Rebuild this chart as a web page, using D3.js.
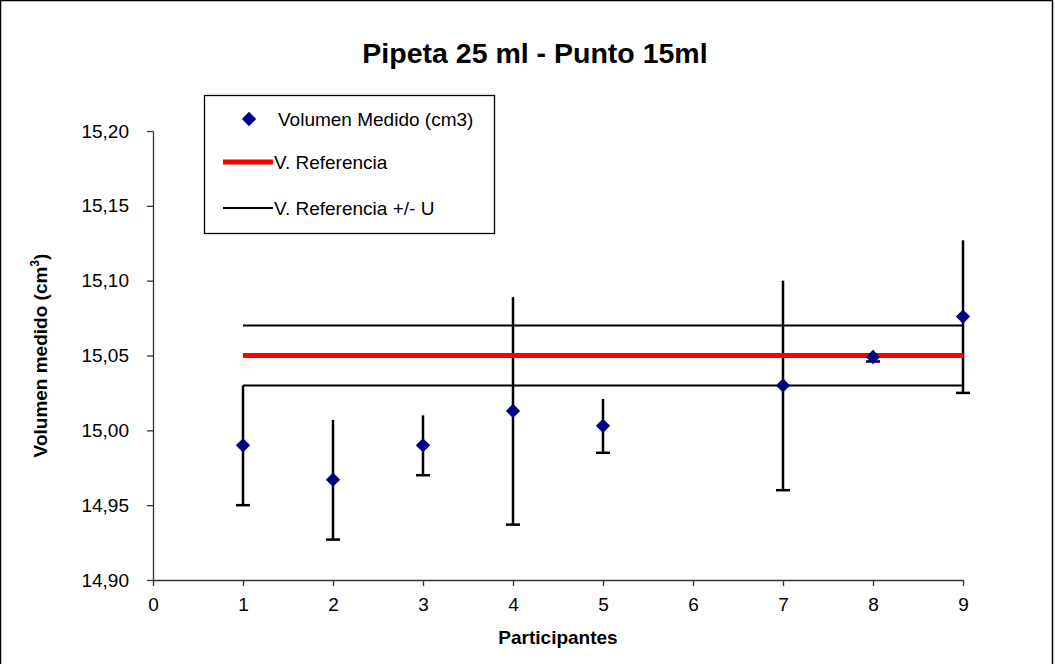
<!DOCTYPE html>
<html>
<head>
<meta charset="utf-8">
<script src="https://cdn.jsdelivr.net/npm/d3@7"></script>
<style>
  body { margin: 0; background: #fff; }
  svg { display: block; font-family: "Liberation Sans", Arial, sans-serif; }
</style>
</head>
<body>
<div id="chart"></div>
<script>
// Data
const participants = [1, 2, 3, 4, 5, 7, 8, 9];
const volumes = [14.990, 14.967, 14.990, 15.013, 15.003, 15.030, 15.049, 15.076];
const uncertainty = [0.040, 0.040, 0.020, 0.076, 0.018, 0.070, 0.003, 0.051];
const refValue = 15.05;
const refU = 0.02;
const refRange = [1, 9];
const xTicks = [0, 1, 2, 3, 4, 5, 6, 7, 8, 9];
const yTicks = [14.90, 14.95, 15.00, 15.05, 15.10, 15.15, 15.20];

const width = 1055, height = 664;
const margin = {top: 131, right: 92, bottom: 84, left: 153};

const svg = d3.select('#chart').append('svg')
    .attr('width', width)
    .attr('height', height);

// outer chart border
svg.append('rect')
    .attr('x', 0.5).attr('y', 0.5)
    .attr('width', width - 3).attr('height', height + 10)
    .attr('fill', 'none')
    .attr('stroke', '#000')
    .attr('stroke-width', 1.5);

const xScale = d3.scaleLinear()
    .domain([0, 9])
    .range([margin.left, width - margin.right]);

const yScale = d3.scaleLinear()
    .domain([14.90, 15.20])
    .range([height - margin.bottom, margin.top]);

const fmt = d => d3.format('.2f')(d).replace('.', ',');

// Axes
const xAxis = svg.append('g')
    .attr('transform', `translate(0,${yScale(14.90)})`)
    .call(d3.axisBottom(xScale).tickValues(xTicks).tickSize(6).tickSizeOuter(0).tickPadding(12));

const yAxis = svg.append('g')
    .attr('transform', `translate(${xScale(0)},0)`)
    .call(d3.axisLeft(yScale).tickValues(yTicks).tickFormat(fmt).tickSize(6).tickSizeOuter(0).tickPadding(18));

[xAxis, yAxis].forEach(g => {
  g.selectAll('path, line').attr('stroke', '#333').attr('stroke-width', 1.3);
  g.selectAll('text')
      .attr('fill', '#000')
      .style('font-size', '19px')
      .style('font-family', '"Liberation Sans", Arial, sans-serif');
});

// Error bars (cap only at the bottom, as in the reference)
const pts = participants.map((p, i) => ({x: p, y: volumes[i], u: uncertainty[i]}));

svg.append('g').selectAll('line')
    .data(pts)
    .enter().append('line')
      .attr('x1', d => xScale(d.x))
      .attr('x2', d => xScale(d.x))
      .attr('y1', d => yScale(d.y + d.u))
      .attr('y2', d => yScale(d.y - d.u))
      .attr('stroke', '#000')
      .attr('stroke-width', 2.5);

svg.append('g').selectAll('line')
    .data(pts)
    .enter().append('line')
      .attr('x1', d => xScale(d.x) - 7)
      .attr('x2', d => xScale(d.x) + 7)
      .attr('y1', d => yScale(d.y - d.u))
      .attr('y2', d => yScale(d.y - d.u))
      .attr('stroke', '#000')
      .attr('stroke-width', 2.5);

// Reference lines
[refValue - refU, refValue + refU].forEach(v => {
  svg.append('line')
      .attr('x1', xScale(refRange[0])).attr('x2', xScale(refRange[1]))
      .attr('y1', yScale(v)).attr('y2', yScale(v))
      .attr('stroke', '#000')
      .attr('stroke-width', 2);
});

svg.append('line')
    .attr('x1', xScale(refRange[0])).attr('x2', xScale(refRange[1]))
    .attr('y1', yScale(refValue)).attr('y2', yScale(refValue))
    .attr('stroke', '#ff0000')
    .attr('stroke-width', 5);

// Measured points
const diamond = d3.symbol().type(d3.symbolDiamond2).size(130);
svg.append('g').selectAll('path')
    .data(pts)
    .enter().append('path')
      .attr('d', diamond)
      .attr('transform', d => `translate(${xScale(d.x)},${yScale(d.y)})`)
      .attr('fill', '#000080');

// Title
svg.append('text')
    .attr('x', 535).attr('y', 63)
    .attr('text-anchor', 'middle')
    .style('font-size', '28.5px')
    .style('font-weight', 'bold')
    .text('Pipeta 25 ml - Punto 15ml');

// Axis titles
svg.append('text')
    .attr('x', (xScale(0) + xScale(9)) / 2).attr('y', 644)
    .attr('text-anchor', 'middle')
    .style('font-size', '19px')
    .style('font-weight', 'bold')
    .text('Participantes');

const yTitle = svg.append('text')
    .attr('transform', `translate(47,${(yScale(14.90) + yScale(15.20)) / 2}) rotate(-90)`)
    .attr('text-anchor', 'middle')
    .style('font-size', '19px')
    .style('font-weight', 'bold');
yTitle.append('tspan').text('Volumen medido (cm');
yTitle.append('tspan').attr('dy', -8).style('font-size', '12px').text('3');
yTitle.append('tspan').attr('dy', 8).text(')');

// Legend
const legend = svg.append('g').attr('transform', 'translate(204,95)');
legend.append('rect')
    .attr('x', 0.5).attr('y', 0.5)
    .attr('width', 290).attr('height', 138)
    .attr('fill', '#fff')
    .attr('stroke', '#000')
    .attr('stroke-width', 1.3);

legend.append('path')
    .attr('d', diamond)
    .attr('transform', 'translate(45,24)')
    .attr('fill', '#000080');
legend.append('text')
    .attr('x', 74).attr('y', 31)
    .style('font-size', '19px')
    .text('Volumen Medido (cm3)');

legend.append('line')
    .attr('x1', 19).attr('x2', 69).attr('y1', 67).attr('y2', 67)
    .attr('stroke', '#ff0000').attr('stroke-width', 5);
legend.append('text')
    .attr('x', 70).attr('y', 74)
    .style('font-size', '19px')
    .text('V. Referencia');

legend.append('line')
    .attr('x1', 19).attr('x2', 69).attr('y1', 113).attr('y2', 113)
    .attr('stroke', '#000').attr('stroke-width', 2);
legend.append('text')
    .attr('x', 70).attr('y', 120)
    .style('font-size', '19px')
    .text('V. Referencia +/- U');
</script>
</body>
</html>
